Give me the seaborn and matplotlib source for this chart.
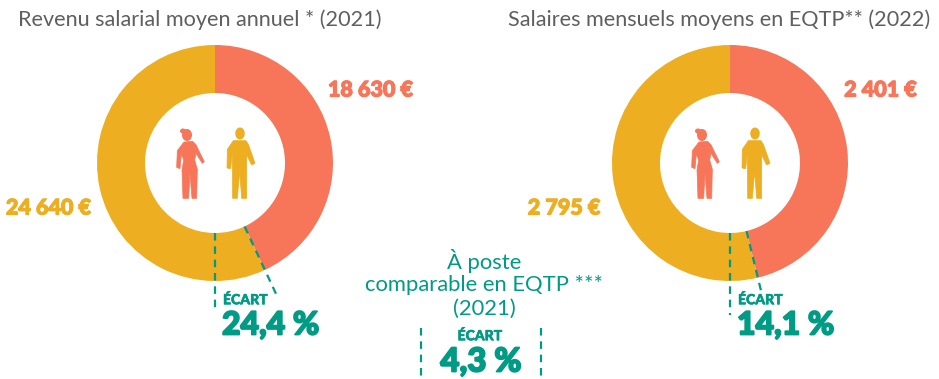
import numpy as np
import matplotlib
matplotlib.use("Agg")
import matplotlib.pyplot as plt
from matplotlib.patches import Polygon, Ellipse
import matplotlib.patheffects as pe
import seaborn as sns

# Data
titles = ["Revenu salarial moyen annuel * (2021)", "Salaires mensuels moyens en EQTP** (2022)"]
women = [18630, 2401]
men = [24640, 2795]
women_labels = ["18 630 €", "2 401 €"]
men_labels = ["24 640 €", "2 795 €"]
gaps = ["24,4 %", "14,1 %"]
gap_label = "ÉCART"
middle_title = ["À poste", "comparable en EQTP ***", "(2021)"]
middle_gap = "4,3 %"

CORAL, GOLD, TEAL, GREY = "#F77558", "#EDAE21", "#009B84", "#5F5F5F"
sns.set_theme(style="white")
plt.rcParams["font.family"] = ["Lato", "DejaVu Sans"]

fig = plt.figure(figsize=(9.39, 3.79), dpi=100)
ax = fig.add_axes([0, 0, 1, 1])

centers = [(215, 163), (730, 163)]
R, r = 118, 70
woman_body = np.array([(132,96),(158,94),(168,104),(178,125),(193,155),(187,160),(168,130),(164,150),(172,178),(170,265),(156,265),(150,190),(146,265),(129,265),(126,180),(131,150),(124,132),(120,176),(110,172),(112,122)])
man_body = np.array([(280,92),(318,92),(326,105),(345,160),(335,165),(320,135),(320,265),(305,265),(299,185),(292,265),(278,265),(277,130),(272,176),(261,174),(262,118)])

for i, (cx, cy) in enumerate(centers):
    ax.pie([women[i], men[i]], colors=[CORAL, GOLD], startangle=-90, counterclock=True,
           center=(cx, cy), radius=R, wedgeprops=dict(width=R - r, linewidth=0))

ax.set_xlim(0, 939)
ax.set_ylim(379, 0)
ax.set_aspect("auto")
ax.axis("off")


def px(v):
    return v * 72 / 100


def dash(x0, y0, x1, y1):
    ax.plot([x0, x1], [y0, y1], color=TEAL, lw=1.6, ls=(0, (3.4, 2.6)), zorder=5)


def bold(x, y, t, col, size, ha="center", stroke=0.9):
    ax.text(x, y, t, ha=ha, va="center", color=col, fontsize=px(size), fontweight="black",
            path_effects=[pe.withStroke(linewidth=stroke, foreground=col)], zorder=6)


title_x = [199.5, 719.5]
for i, t in enumerate(titles):
    ax.text(title_x[i], 20, t, ha="center", va="center", color=GREY, fontsize=px(21.7))

bold(370.5, 90, women_labels[0], CORAL, 21.5)
bold(880.5, 90, women_labels[1], CORAL, 21.5)
bold(48.5, 208, men_labels[0], GOLD, 21.5)
bold(564, 208, men_labels[1], GOLD, 21.5)

ends = [(308, 150), (315, 136)]
gap_x = [223, 738]
for i, (cx, cy) in enumerate(centers):
    frac = women[i] / (women[i] + men[i])
    a = 2 * np.pi * frac
    dash(cx, cy + r, cx, ends[i][0])
    dash(cx + r * np.sin(a), cy - r * np.cos(a), cx + ends[i][1] * np.sin(a), cy - ends[i][1] * np.cos(a))
    bold(gap_x[i], 300, gap_label, TEAL, 14, ha="left", stroke=0.4)
    bold(gap_x[i] - 1, 325, gaps[i], TEAL, 32, ha="left", stroke=1.3)
    off = cx - 215
    for body, col in ((woman_body, CORAL), (man_body, GOLD)):
        pts = body / 3 + (140 + off, 110)
        ax.add_patch(Polygon(pts, closed=True, fc=col, ec=col, lw=0.5, zorder=4))
    ax.add_patch(Ellipse((187 + off, 135), 10, 12, fc=CORAL, ec="none", zorder=4))
    ax.add_patch(Ellipse((183 + off, 131), 6, 5, fc=CORAL, ec="none", zorder=4))
    ax.add_patch(Ellipse((240 + off, 133.5), 9.5, 12, fc=GOLD, ec="none", zorder=4))

for y, t in zip((261, 285, 309), middle_title):
    ax.text(484, y, t, ha="center", va="center", color=TEAL, fontsize=px(22))
bold(480, 336, gap_label, TEAL, 14, stroke=0.4)
bold(481, 362, middle_gap, TEAL, 33, stroke=1.3)
dash(421, 328, 421, 378)
dash(541, 328, 541, 378)

fig.savefig("out.png", dpi=100, facecolor="white")
